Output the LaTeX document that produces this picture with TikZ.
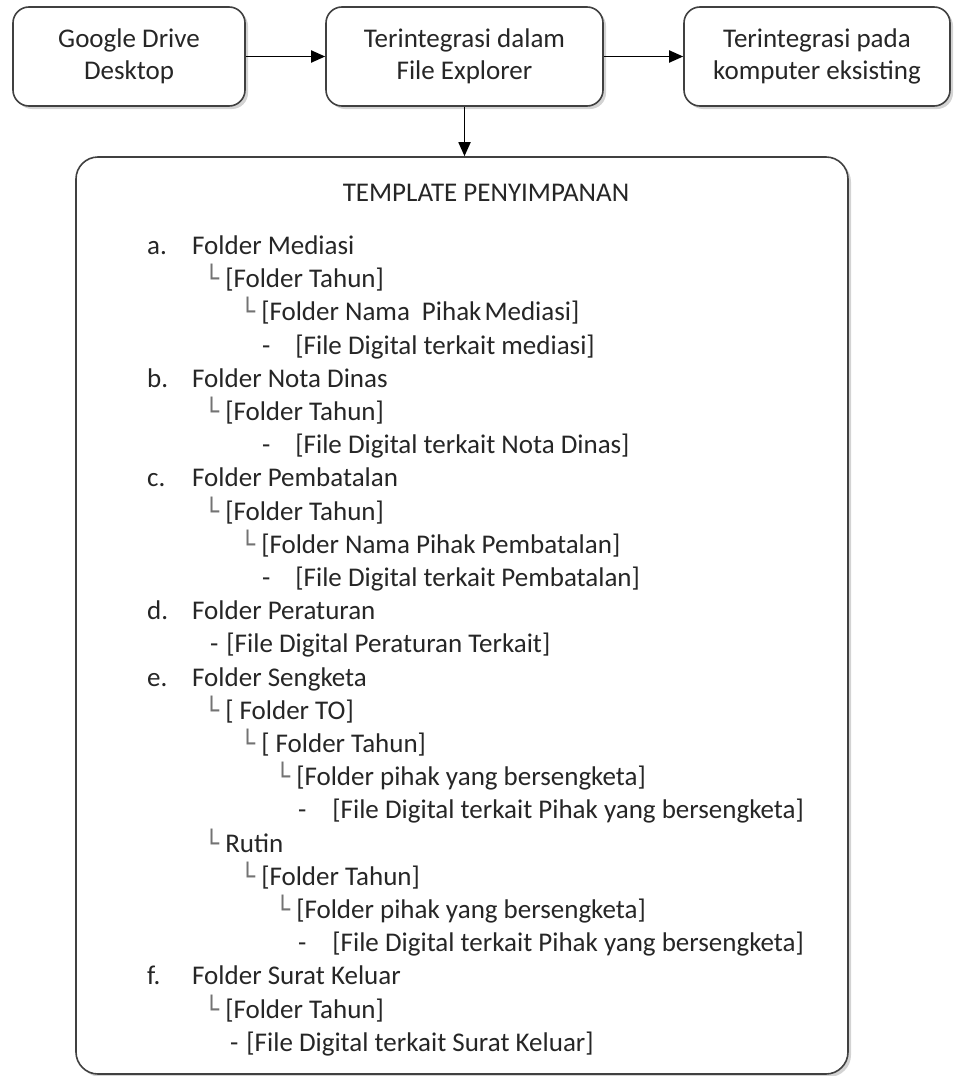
\documentclass[tikz,border=0pt]{standalone}
\usepackage{fontspec}
\setmainfont{Carlito}
\newfontfamily\boxfont{DejaVu Sans}
\usetikzlibrary{positioning,shadows,arrows.meta}

\newcommand{\elbow}{{\boxfont\fontsize{25}{25}\selectfont\color{black!55}└}\hspace{6pt}}

\tikzset{
    box/.style={draw=black!75, line width=1.6pt, rounded corners=16pt, fill=white,
        drop shadow={shadow xshift=3pt, shadow yshift=-3pt, opacity=0.35},
        align=center, font=\fontsize{27}{32}\selectfont, text=black!85},
    row/.style={anchor=base west, inner sep=0pt, font=\fontsize{27}{33}\selectfont, text=black!85},
    arr/.style={-{Triangle[length=14pt,width=12pt]}, line width=1.8pt},
}

\begin{document}
\begin{tikzpicture}[x=1pt,y=-1pt]
        \useasboundingbox (0,0) rectangle (955,1076);
        % Boxes
        \node (gdrive) at (129,56.5) [box, minimum width=232pt, minimum height=99pt, text depth=4pt] {Google Drive\\Desktop};
        \node (explorer) at (464.5,56.5) [box, minimum width=277pt, minimum height=99pt] {Terintegrasi dalam\\File Explorer};
        \node (komputer) at (817,56.5) [box, minimum width=266pt, minimum height=99pt] {Terintegrasi pada\\komputer eksisting};
        \node (template) at (462,615.5) [box, rounded corners=22pt, minimum width=772pt, minimum height=917pt] {};
        \node (judul) at (486,201.5) [row, anchor=base] {TEMPLATE PENYIMPANAN};

        % Edges
        \draw[arr] (gdrive) -- (explorer);
        \draw[arr] (explorer) -- (komputer);
        \draw[arr] (explorer.south) -- (template.north -| explorer.south);

        % Folder a
        \node (pa) at (147,254.5) [row] {a.};
        \node (l1) at (192,254.5) [row] {Folder Mediasi};
        \node (l2) at (204,287.7) [row] {\elbow[Folder Tahun]};
        \node (l3) at (240,320.9) [row] {\elbow[Folder Nama\hspace{12pt}Pihak\hspace{3pt}Mediasi]};
        \node (l4) at (262,354.1) [row] {-\hspace{25pt}[File Digital terkait mediasi]};
        % Folder b
        \node (pb) at (147,387.3) [row] {b.};
        \node (l5) at (192,387.3) [row] {Folder Nota Dinas};
        \node (l6) at (204,420.5) [row] {\elbow[Folder Tahun]};
        \node (l7) at (262,453.7) [row] {-\hspace{25pt}[File Digital terkait Nota Dinas]};
        % Folder c
        \node (pc) at (147,486.9) [row] {c.};
        \node (l8) at (192,486.9) [row] {Folder Pembatalan};
        \node (l9) at (204,520.1) [row] {\elbow[Folder Tahun]};
        \node (l10) at (240,553.3) [row] {\elbow[Folder Nama Pihak Pembatalan]};
        \node (l11) at (262,586.5) [row] {-\hspace{25pt}[File Digital terkait Pembatalan]};
        % Folder d
        \node (pd) at (147,619.7) [row] {d.};
        \node (l12) at (192,619.7) [row] {Folder Peraturan};
        \node (l13) at (210,652.9) [row] {-\hspace{8pt}[File Digital Peraturan Terkait]};
        % Folder e
        \node (pe) at (147,686.1) [row] {e.};
        \node (l14) at (192,686.1) [row] {Folder Sengketa};
        \node (l15) at (204,719.3) [row] {\elbow[ Folder TO]};
        \node (l16) at (240,752.5) [row] {\elbow[ Folder Tahun]};
        \node (l17) at (275,785.7) [row] {\elbow[Folder pihak yang bersengketa]};
        \node (l18) at (298,818.9) [row] {-\hspace{26pt}[File Digital terkait Pihak yang bersengketa]};
        \node (l19) at (204,852.1) [row] {\elbow Rutin};
        \node (l20) at (240,885.3) [row] {\elbow[Folder Tahun]};
        \node (l21) at (275,918.5) [row] {\elbow[Folder pihak yang bersengketa]};
        \node (l22) at (298,951.7) [row] {-\hspace{26pt}[File Digital terkait Pihak yang bersengketa]};
        % Folder f
        \node (pf) at (147,984.9) [row] {f.};
        \node (l23) at (192,984.9) [row] {Folder Surat Keluar};
        \node (l24) at (204,1018.1) [row] {\elbow[Folder Tahun]};
        \node (l25) at (230,1051.3) [row] {-\hspace{8pt}[File Digital terkait Surat Keluar]};
\end{tikzpicture}
\end{document}
